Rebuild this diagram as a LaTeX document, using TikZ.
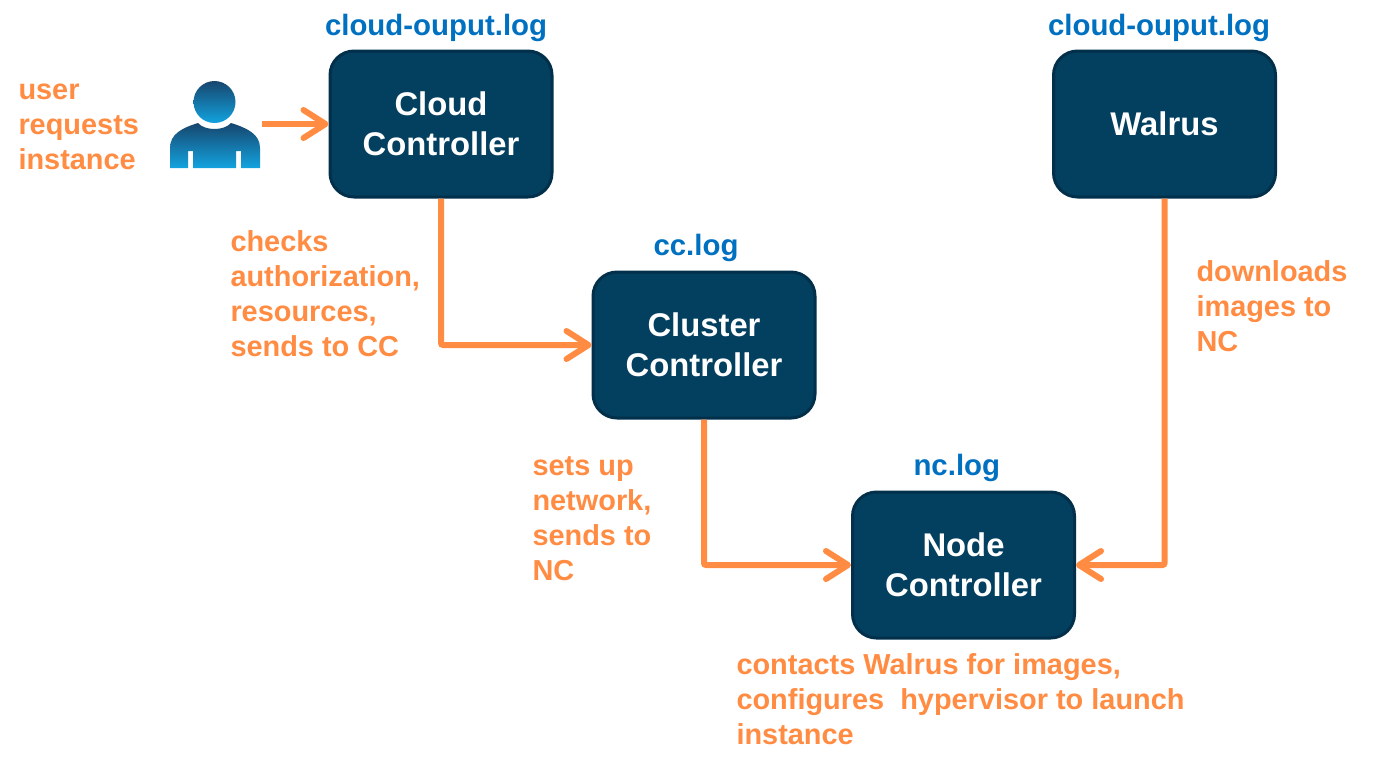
\documentclass[tikz,border=0pt]{standalone}
\usepackage{fontspec}
\setmainfont{Liberation Sans}
\usetikzlibrary{arrows.meta}
\definecolor{boxfill}{HTML}{033F5F}
\definecolor{boxline}{HTML}{022F4A}
\definecolor{flow}{HTML}{FF8C42}
\definecolor{logblue}{HTML}{0070C0}
\definecolor{usertop}{HTML}{17466E}
\definecolor{userbot}{HTML}{12A3DF}
\tikzset{
every picture/.style={
line width=1pt
},
ctrl/.style={draw=boxline, line width=1.5pt, fill=boxfill, rounded corners=12pt, minimum width=111pt,
  minimum height=73pt, inner sep=0pt, align=center, text=white,
  font=\fontsize{16.4}{20}\selectfont\bfseries},
logname/.style={anchor=west, inner sep=0pt, text=logblue, font=\fontsize{14.7}{18}\selectfont\bfseries},
note/.style={anchor=north west, inner sep=0pt, align=left, text=flow,
  font=\fontsize{14.45}{17.5}\selectfont\bfseries},
flowline/.style={draw=flow, line width=3pt, -{Straight Barb[length=11pt,width=14pt,round]}}
}

\begin{document}
\begin{tikzpicture}[x=0.5pt,y=-0.5pt]
  \useasboundingbox (0,0) rectangle (1384,768);

  \node[ctrl] (cloud) at (441,124) {Cloud\\Controller};
  \node[ctrl] (cluster) at (704,345) {Cluster\\Controller};
  \node[ctrl] (nodectrl) at (963.5,565) {Node\\Controller};
  \node[ctrl] (walrus) at (1164.5,124) {Walrus};

  % user icon
  \shade[top color=usertop, bottom color=userbot] (214.5,102) circle (21);
  \shade[top color=usertop, bottom color=userbot]
    (170,168) -- (170,148) .. controls (170,134) and (182,128) .. (198,123)
    .. controls (205,131) and (224,131) .. (231,123)
    .. controls (247,128) and (260,134) .. (260,148) -- (260,168)
    -- (241,168) -- (241,151) -- (236,151) -- (236,168)
    -- (193,168) -- (193,151) -- (188,151) -- (188,168) -- cycle;
  \coordinate (user) at (262,124);

  \draw[flowline] (user) -- (cloud.west);
  \draw[flowline, rounded corners=1pt] (cloud.south) |- (cluster.west);
  \draw[flowline, rounded corners=1pt] (cluster.south) |- (nodectrl.west);
  \draw[flowline, rounded corners=1pt] (walrus.south) |- (nodectrl.east);

  \node[logname] (logcloud) at (324,28) {cloud-ouput.log};
  \node[logname] (logcc) at (652.5,248) {cc.log};
  \node[logname] (lognc) at (912.5,468) {nc.log};
  \node[logname] (logwalrus) at (1047,28) {cloud-ouput.log};

  \node[note] (noteuser) at (17.5,82.5) {user\\requests\\instance};
  \node[note] (notecloud) at (229.5,229.5) {checks\\authorization,\\resources,\\sends to CC};
  \node[note] (notecluster) at (531.5,455.5) {sets up\\network,\\sends to\\NC};
  \node[note] (notewalrus) at (1195.5,259.5) {downloads\\images to\\NC};
  \node[note] (notenode) at (735.5,652.5) {contacts Walrus for images,\\configures\ \ hypervisor to launch\\instance};
\end{tikzpicture}
\end{document}
